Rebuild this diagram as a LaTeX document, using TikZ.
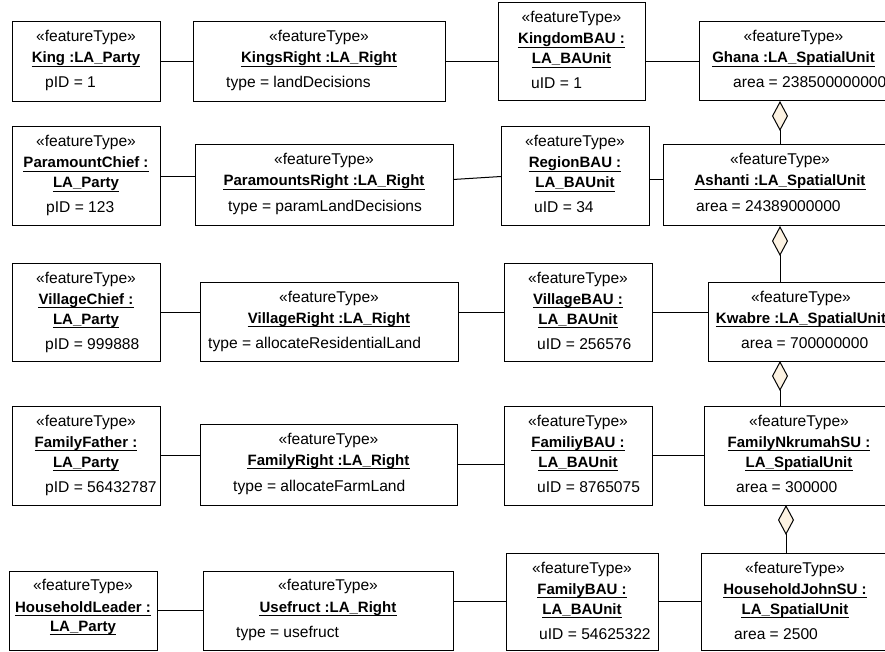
\documentclass[tikz,border=0pt]{standalone}
\usepackage{fontspec}
\setmainfont{Liberation Sans}
\usetikzlibrary{arrows.meta}
\definecolor{aggfill}{RGB}{252,242,226}

\begin{document}
\begin{tikzpicture}[x=1pt, y=-1pt, font=\fontsize{15.6}{18}\selectfont,
  obj/.style={draw, line width=1pt, anchor=north west, inner sep=0pt, outer sep=0pt},
  stype/.style={anchor=base, inner sep=0pt},
  uname/.style={anchor=base, inner sep=0pt, font=\fontsize{15}{18}\selectfont\bfseries,
    append after command={([yshift=-3pt]\tikzlastnode.base west) edge[line width=0.9pt] ([yshift=-3pt]\tikzlastnode.base east)}},
  attr/.style={anchor=base west, inner sep=0pt},
  link/.style={line width=1pt},
  agg/.style={line width=1pt, {Diamond[length=30pt, width=16pt, fill=aggfill]}-}]
  \useasboundingbox (0,0) rectangle (885,652);
  \clip (0,0) rectangle (885,652);

  % row 1: kingdom
  \node[obj, minimum width=148pt, minimum height=80pt] (king) at (12,22) {};
  \node[stype] at ([yshift=-20pt]king.north) {«featureType»};
  \node[uname] at ([yshift=-41pt]king.north) {King :LA\_Party};
  \node[attr] at ([xshift=33pt,yshift=-66pt]king.north west) {pID = 1};

  \node[obj, minimum width=252pt, minimum height=80pt] (kingsright) at (193,22) {};
  \node[stype] at ([yshift=-20pt]kingsright.north) {«featureType»};
  \node[uname] at ([yshift=-41pt]kingsright.north) {KingsRight :LA\_Right};
  \node[attr] at ([xshift=33pt,yshift=-66pt]kingsright.north west) {type = landDecisions};

  \node[obj, minimum width=147pt, minimum height=98pt] (kingdombau) at (498,3) {};
  \node[stype] at ([yshift=-20pt]kingdombau.north) {«featureType»};
  \node[uname] at ([yshift=-41pt]kingdombau.north) {KingdomBAU :};
  \node[uname] at ([yshift=-61pt]kingdombau.north) {LA\_BAUnit};
  \node[attr] at ([xshift=33pt,yshift=-86pt]kingdombau.north west) {uID = 1};

  \node[obj, minimum width=189pt, minimum height=79pt] (ghana) at (699,22) {};
  \node[stype] at ([yshift=-20pt]ghana.north) {«featureType»};
  \node[uname] at ([yshift=-41pt]ghana.north) {Ghana :LA\_SpatialUnit};
  \node[attr] at ([xshift=34pt,yshift=-66pt]ghana.north west) {area = 238500000000};

  % row 2: region
  \node[obj, minimum width=148pt, minimum height=99pt] (paramountchief) at (12,127) {};
  \node[stype] at ([yshift=-20pt]paramountchief.north) {«featureType»};
  \node[uname] at ([yshift=-41pt]paramountchief.north) {ParamountChief :};
  \node[uname] at ([yshift=-61pt]paramountchief.north) {LA\_Party};
  \node[attr] at ([xshift=34pt,yshift=-86pt]paramountchief.north west) {pID = 123};

  \node[obj, minimum width=258pt, minimum height=81pt] (paramountsright) at (195,145) {};
  \node[stype] at ([yshift=-20pt]paramountsright.north) {«featureType»};
  \node[uname] at ([yshift=-41pt]paramountsright.north) {ParamountsRight :LA\_Right};
  \node[attr] at ([xshift=33pt,yshift=-67pt]paramountsright.north west) {type = paramLandDecisions};

  \node[obj, minimum width=148pt, minimum height=99pt] (regionbau) at (501,127) {};
  \node[stype] at ([yshift=-20pt]regionbau.north) {«featureType»};
  \node[uname] at ([yshift=-41pt]regionbau.north) {RegionBAU :};
  \node[uname] at ([yshift=-61pt]regionbau.north) {LA\_BAUnit};
  \node[attr] at ([xshift=33pt,yshift=-86pt]regionbau.north west) {uID = 34};

  \node[obj, minimum width=234pt, minimum height=81pt] (ashanti) at (663,145) {};
  \node[stype] at ([yshift=-20pt]ashanti.north) {«featureType»};
  \node[uname] at ([yshift=-41pt]ashanti.north) {Ashanti :LA\_SpatialUnit};
  \node[attr] at ([xshift=33pt,yshift=-67pt]ashanti.north west) {area = 24389000000};

  % row 3: village
  \node[obj, minimum width=148pt, minimum height=98pt] (villagechief) at (12,263) {};
  \node[stype] at ([yshift=-20pt]villagechief.north) {«featureType»};
  \node[uname] at ([yshift=-41pt]villagechief.north) {VillageChief :};
  \node[uname] at ([yshift=-61pt]villagechief.north) {LA\_Party};
  \node[attr] at ([xshift=33pt,yshift=-86pt]villagechief.north west) {pID = 999888};

  \node[obj, minimum width=258pt, minimum height=79pt] (villageright) at (200,282) {};
  \node[stype] at ([yshift=-20pt]villageright.north) {«featureType»};
  \node[uname] at ([yshift=-41pt]villageright.north) {VillageRight :LA\_Right};
  \node[attr] at ([xshift=8pt,yshift=-66pt]villageright.north west) {type = allocateResidentialLand};

  \node[obj, minimum width=148pt, minimum height=98pt] (villagebau) at (504,263) {};
  \node[stype] at ([yshift=-20pt]villagebau.north) {«featureType»};
  \node[uname] at ([yshift=-41pt]villagebau.north) {VillageBAU :};
  \node[uname] at ([yshift=-61pt]villagebau.north) {LA\_BAUnit};
  \node[attr] at ([xshift=33pt,yshift=-86pt]villagebau.north west) {uID = 256576};

  \node[obj, minimum width=186pt, minimum height=79pt] (kwabre) at (708,282) {};
  \node[stype] at ([yshift=-20pt]kwabre.north) {«featureType»};
  \node[uname] at ([yshift=-41pt]kwabre.north) {Kwabre :LA\_SpatialUnit};
  \node[attr] at ([xshift=33pt,yshift=-66pt]kwabre.north west) {area = 700000000};

  % row 4: family
  \node[obj, minimum width=148pt, minimum height=99pt] (familyfather) at (12,406) {};
  \node[stype] at ([yshift=-20pt]familyfather.north) {«featureType»};
  \node[uname] at ([yshift=-41pt]familyfather.north) {FamilyFather :};
  \node[uname] at ([yshift=-61pt]familyfather.north) {LA\_Party};
  \node[attr] at ([xshift=33pt,yshift=-86pt]familyfather.north west) {pID = 56432787};

  \node[obj, minimum width=257pt, minimum height=81pt] (familyright) at (200,424) {};
  \node[stype] at ([yshift=-20pt]familyright.north) {«featureType»};
  \node[uname] at ([yshift=-41pt]familyright.north) {FamilyRight :LA\_Right};
  \node[attr] at ([xshift=33pt,yshift=-67pt]familyright.north west) {type = allocateFarmLand};

  \node[obj, minimum width=148pt, minimum height=99pt] (familiybau) at (504,406) {};
  \node[stype] at ([yshift=-20pt]familiybau.north) {«featureType»};
  \node[uname] at ([yshift=-41pt]familiybau.north) {FamiliyBAU :};
  \node[uname] at ([yshift=-61pt]familiybau.north) {LA\_BAUnit};
  \node[attr] at ([xshift=33pt,yshift=-86pt]familiybau.north west) {uID = 8765075};

  \node[obj, minimum width=190pt, minimum height=99pt] (nkrumah) at (704,406) {};
  \node[stype] at ([yshift=-20pt]nkrumah.north) {«featureType»};
  \node[uname] at ([yshift=-41pt]nkrumah.north) {FamilyNkrumahSU :};
  \node[uname] at ([yshift=-61pt]nkrumah.north) {LA\_SpatialUnit};
  \node[attr] at ([xshift=32pt,yshift=-86pt]nkrumah.north west) {area = 300000};

  % row 5: household
  \node[obj, minimum width=148pt, minimum height=79pt] (householdleader) at (9,571) {};
  \node[stype] at ([yshift=-19pt]householdleader.north) {«featureType»};
  \node[uname] at ([yshift=-41pt]householdleader.north) {HouseholdLeader :};
  \node[uname] at ([yshift=-60pt]householdleader.north) {LA\_Party};

  \node[obj, minimum width=250pt, minimum height=79pt] (usefruct) at (203,571) {};
  \node[stype] at ([yshift=-19pt]usefruct.north) {«featureType»};
  \node[uname] at ([yshift=-41pt]usefruct.north) {Usefruct :LA\_Right};
  \node[attr] at ([xshift=33pt,yshift=-66pt]usefruct.north west) {type = usefruct};

  \node[obj, minimum width=152pt, minimum height=97pt] (familybau) at (506,553) {};
  \node[stype] at ([yshift=-20pt]familybau.north) {«featureType»};
  \node[uname] at ([yshift=-41pt]familybau.north) {FamilyBAU :};
  \node[uname] at ([yshift=-61pt]familybau.north) {LA\_BAUnit};
  \node[attr] at ([xshift=33pt,yshift=-86pt]familybau.north west) {uID = 54625322};

  \node[obj, minimum width=188pt, minimum height=97pt] (householdjohn) at (701,553) {};
  \node[stype] at ([yshift=-20pt]householdjohn.north) {«featureType»};
  \node[uname] at ([yshift=-41pt]householdjohn.north) {HouseholdJohnSU :};
  \node[uname] at ([yshift=-61pt]householdjohn.north) {LA\_SpatialUnit};
  \node[attr] at ([xshift=33pt,yshift=-86pt]householdjohn.north west) {area = 2500};

  % links party -- right -- baunit -- spatial unit
  \draw[link] (king.east) -- (kingsright.west);
  \draw[link] (kingsright.east) -- (kingdombau.west |- kingsright.east);
  \draw[link] (kingdombau.east |- ghana.west) -- (ghana.west);
  \draw[link] (paramountchief.east) -- (paramountsright.west |- paramountchief.east);
  \draw[link] ([yshift=-3pt]paramountsright.east |- regionbau.west) -- (regionbau.west);
  \draw[link] ([yshift=-3pt]regionbau.east) -- ([yshift=-3pt]ashanti.west |- regionbau.east);
  \draw[link] (villagechief.east) -- (villageright.west |- villagechief.east);
  \draw[link] (villageright.east |- villagebau.west) -- (villagebau.west);
  \draw[link] (villagebau.east) -- (kwabre.west |- villagebau.east);
  \draw[link] (familyfather.east) -- (familyright.west |- familyfather.east);
  \draw[link] (familyright.east) -- (familiybau.west |- familyright.east);
  \draw[link] (familiybau.east) -- (nkrumah.west |- familiybau.east);
  \draw[link] (householdleader.east) -- (usefruct.west);
  \draw[link] (usefruct.east |- familybau.west) -- (familybau.west);
  \draw[link] (familybau.east) -- (householdjohn.west |- familybau.east);

  % aggregation of spatial units
  \coordinate (axisA) at (780,0);
  \coordinate (axisB) at (786,0);
  \draw[agg] (ghana.south -| axisA) -- (ashanti.north -| axisA);
  \draw[agg] (ashanti.south -| axisA) -- (kwabre.north -| axisA);
  \draw[agg] (kwabre.south -| axisA) -- (nkrumah.north -| axisA);
  \draw[agg] (nkrumah.south -| axisB) -- (householdjohn.north -| axisB);
\end{tikzpicture}
\end{document}
